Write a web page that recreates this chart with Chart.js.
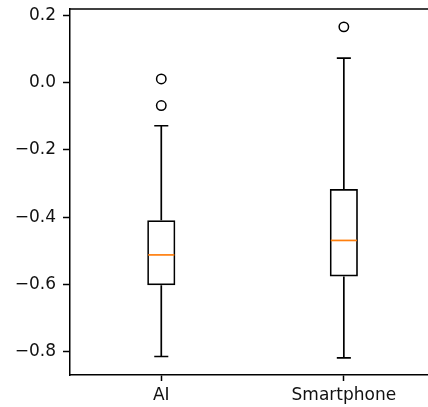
<!DOCTYPE html>
<html>
<head>
<meta charset="utf-8">
<script src="https://cdn.jsdelivr.net/npm/chart.js@4"></script>
<style>
  html, body { margin: 0; padding: 0; background: #fff; overflow: hidden; }
  #boxes { display: block; }
</style>
</head>
<body>
<canvas id="boxes" width="428" height="407"></canvas>
<script>
// box statistics per category (positions 1, 2 on the x axis)
const categories = ['AI', 'Smartphone'];
const lowerWhisker = [-0.814, -0.818];
const q1 = [-0.602, -0.576];
const medians = [-0.512, -0.469];
const q3 = [-0.409, -0.316];
const upperWhisker = [-0.128, 0.073];
const outliersAI = [0.011, -0.068];
const outliersSmartphone = [0.166];
const yTicks = [-0.8, -0.6, -0.4, -0.2, 0.0, 0.2];

const fliers = [
  ...outliersAI.map(v => ({x: 1, y: v})),
  ...outliersSmartphone.map(v => ({x: 2, y: v}))
];

const tickFont = {family: 'DejaVu Sans', size: 17};
const lineW = 1.7;

// whiskers, caps, medians and the top spine
const boxParts = {
  id: 'boxParts',
  afterDatasetsDraw(chart) {
    const {ctx, scales: {y}, chartArea} = chart;
    const bars = chart.getDatasetMeta(0).data;
    ctx.save();
    ctx.lineCap = 'butt';
    bars.forEach((bar, i) => {
      const cx = bar.x;
      const capHalf = bar.width / 4;
      const yLow = y.getPixelForValue(lowerWhisker[i]);
      const yHigh = y.getPixelForValue(upperWhisker[i]);
      ctx.strokeStyle = '#000';
      ctx.lineWidth = lineW;
      ctx.beginPath();
      ctx.moveTo(cx, y.getPixelForValue(q1[i]));
      ctx.lineTo(cx, yLow);
      ctx.moveTo(cx, y.getPixelForValue(q3[i]));
      ctx.lineTo(cx, yHigh);
      ctx.moveTo(cx - capHalf, yLow);
      ctx.lineTo(cx + capHalf, yLow);
      ctx.moveTo(cx - capHalf, yHigh);
      ctx.lineTo(cx + capHalf, yHigh);
      ctx.stroke();

      const ym = y.getPixelForValue(medians[i]);
      ctx.strokeStyle = '#ff7f0e';
      ctx.beginPath();
      ctx.moveTo(bar.x - bar.width / 2 + 1, ym);
      ctx.lineTo(bar.x + bar.width / 2 - 1, ym);
      ctx.stroke();
    });
    ctx.strokeStyle = '#000';
    ctx.lineWidth = 1.5;
    ctx.beginPath();
    ctx.moveTo(chartArea.left, chartArea.top);
    ctx.lineTo(chartArea.right, chartArea.top);
    ctx.stroke();
    ctx.restore();
  }
};

new Chart(document.getElementById('boxes'), {
  type: 'bar',
  data: {
    datasets: [
      {
        label: 'IQR',
        data: categories.map((c, i) => ({x: i + 1, y: [q1[i], q3[i]]})),
        backgroundColor: 'rgba(0,0,0,0)',
        borderColor: '#000',
        borderWidth: lineW,
        borderSkipped: false,
        barPercentage: 0.154,
        categoryPercentage: 1
      },
      {
        type: 'line',
        label: 'Outliers',
        data: fliers,
        showLine: false,
        pointStyle: 'circle',
        pointRadius: 4.7,
        pointBorderWidth: 1.5,
        pointBorderColor: '#000',
        pointBackgroundColor: 'rgba(0,0,0,0)'
      }
    ]
  },
  options: {
    responsive: false,
    animation: false,
    devicePixelRatio: 1,
    layout: {autoPadding: false, padding: {top: 9, right: 0, left: 0, bottom: 0}},
    plugins: {legend: {display: false}, tooltip: {enabled: false}},
    scales: {
      x: {
        type: 'linear',
        min: 0.5,
        max: 2.461,
        offset: false,
        grid: {offset: false, drawOnChartArea: false, tickLength: 6, tickColor: '#000', tickWidth: 1.5},
        border: {display: true, color: '#000', width: 1.5},
        ticks: {
          color: '#111',
          font: tickFont,
          padding: 4,
          maxRotation: 0,
          callback: v => categories[Math.round(v) - 1]
        },
        afterBuildTicks: s => { s.ticks = categories.map((c, i) => ({value: i + 1})); },
        afterFit: s => { s.height = 32; s.paddingLeft = 0; s.paddingRight = 0; }
      },
      y: {
        min: -0.869,
        max: 0.219,
        grid: {drawOnChartArea: false, tickLength: 7, tickColor: '#000', tickWidth: 1.5},
        border: {display: true, color: '#000', width: 1.5},
        ticks: {
          color: '#111',
          font: tickFont,
          padding: 7,
          callback: v => v.toFixed(1).replace('-', '\u2212')
        },
        afterBuildTicks: s => { s.ticks = yTicks.map(v => ({value: v})); },
        afterFit: s => { s.width = 70; s.paddingTop = 0; s.paddingBottom = 0; }
      }
    }
  },
  plugins: [boxParts]
});
</script>
</body>
</html>
